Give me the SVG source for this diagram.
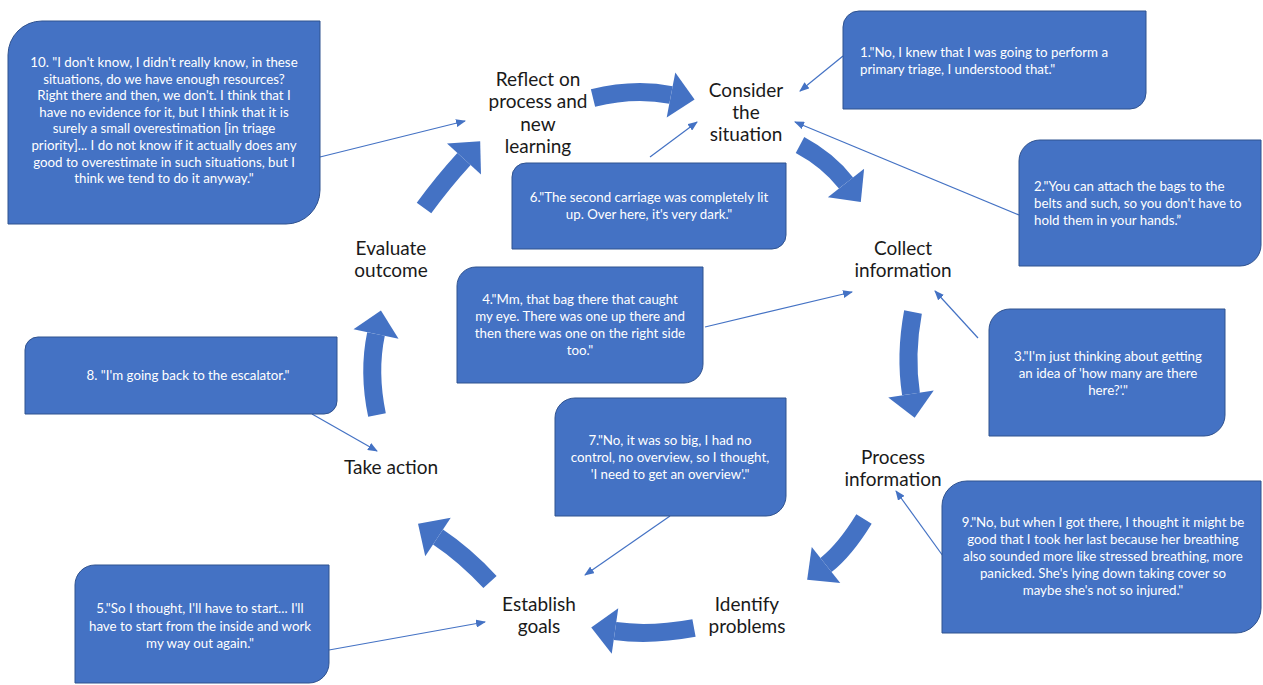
<svg xmlns="http://www.w3.org/2000/svg" width="1263" height="685" viewBox="0 0 1263 685">
<style>
.box{fill:#4472C4;stroke:#2F528F;stroke-width:1}
.bt{font-family:Lato,"Open Sans","Liberation Sans",sans-serif;font-size:13.3px;fill:#ffffff}
.c{text-anchor:middle}
.lbl{font-family:Lato,"Open Sans","Liberation Sans",sans-serif;font-size:19px;fill:#1a1a1a;text-anchor:middle}
.big{fill:none;stroke:#4472C4;stroke-width:18;marker-end:url(#head)}
.thin{fill:none;stroke:#4472C4;stroke-width:1.2;marker-end:url(#tip)}
</style>
<defs>
<marker id="head" viewBox="0 0 24 46" markerWidth="24" markerHeight="46" refX="0" refY="23" orient="auto" markerUnits="userSpaceOnUse" overflow="visible">
<path d="M0,0 L24,23 L0,46 Z" fill="#4472C4"/>
</marker>
<marker id="tip" viewBox="0 0 10 8" markerWidth="10" markerHeight="8" refX="9" refY="4" orient="auto" markerUnits="userSpaceOnUse">
<path d="M0,0 L10,4 L0,8 Z" fill="#4472C4"/>
</marker>
</defs>
<rect width="1263" height="685" fill="#ffffff"/>

<g id="connectors">
<path class="big" d="M593,98 Q634,88 671,95"/>
<path class="big" d="M800,145 Q828,160 846,183"/>
<path class="big" d="M913,312 Q905,355 911,394"/>
<path class="big" d="M864,519 Q845,550 826,565"/>
<path class="big" d="M694,628 Q650,636 615,631"/>
<path class="big" d="M490,582 Q465,555 438,537"/>
<path class="big" d="M377,415 Q368,372 376,334"/>
<path class="big" d="M424,208 Q443,182 464,159"/>
<path class="thin" d="M320,157 L465,121"/>
<path class="thin" d="M650,157 L697,122"/>
<path class="thin" d="M843,56 L800,91"/>
<path class="thin" d="M1019,215 L795,122"/>
<path class="thin" d="M705,327 L852,292"/>
<path class="thin" d="M978,338 L935,291"/>
<path class="thin" d="M943,556 L896,491"/>
<path class="thin" d="M670,516 L585,575"/>
<path class="thin" d="M312,414 L377,451"/>
<path class="thin" d="M329,650 L485,622"/>
</g>

<g id="label-reflect"><text class="lbl"><tspan x="538" y="86">Reflect on</tspan><tspan x="538" y="108">process and</tspan><tspan x="538" y="131">new</tspan><tspan x="538" y="153">learning</tspan></text></g>
<g id="label-consider"><text class="lbl"><tspan x="746" y="97">Consider</tspan><tspan x="746" y="119">the</tspan><tspan x="746" y="141">situation</tspan></text></g>
<g id="label-collect"><text class="lbl"><tspan x="903" y="255">Collect</tspan><tspan x="903" y="277">information</tspan></text></g>
<g id="label-process"><text class="lbl"><tspan x="893" y="464">Process</tspan><tspan x="893" y="486">information</tspan></text></g>
<g id="label-identify"><text class="lbl"><tspan x="747" y="611">Identify</tspan><tspan x="747" y="633">problems</tspan></text></g>
<g id="label-establish"><text class="lbl"><tspan x="539" y="611">Establish</tspan><tspan x="539" y="633">goals</tspan></text></g>
<g id="label-take"><text class="lbl" x="391" y="474">Take action</text></g>
<g id="label-evaluate"><text class="lbl"><tspan x="391" y="255">Evaluate</tspan><tspan x="391" y="277">outcome</tspan></text></g>

<g id="box10">
<path class="box" d="M42,21 H320 V190 A34,34 0 0 1 286,224 H8 V55 A34,34 0 0 1 42,21 Z"/>
<text class="bt c"><tspan x="164" y="67">10. "I don't know, I didn't really know, in these</tspan><tspan x="164" y="84">situations, do we have enough resources?</tspan><tspan x="164" y="100">Right there and then, we don't. I think that I</tspan><tspan x="164" y="117">have no evidence for it, but I think that it is</tspan><tspan x="164" y="133">surely a small overestimation [in triage</tspan><tspan x="164" y="150">priority]... I do not know if it actually does any</tspan><tspan x="164" y="167">good to overestimate in such situations, but I</tspan><tspan x="164" y="183">think we tend to do it anyway."</tspan></text>
</g>
<g id="box1">
<path class="box" d="M859,11 H1146 V93 A16,16 0 0 1 1130,109 H843 V27 A16,16 0 0 1 859,11 Z"/>
<text class="bt"><tspan x="860" y="57">1."No, I knew that I was going to perform a</tspan><tspan x="860" y="74">primary triage, I understood that."</tspan></text>
</g>
<g id="box2">
<path class="box" d="M1040,140 H1261 V245 A21,21 0 0 1 1240,266 H1019 V161 A21,21 0 0 1 1040,140 Z"/>
<text class="bt"><tspan x="1034" y="191">2."You can attach the bags to the</tspan><tspan x="1034" y="208">belts and such, so you don't have to</tspan><tspan x="1034" y="225">hold them in your hands.”</tspan></text>
</g>
<g id="box6">
<path class="box" d="M526,163 H786 V235 A14,14 0 0 1 772,249 H512 V177 A14,14 0 0 1 526,163 Z"/>
<text class="bt c"><tspan x="649" y="202">6."The second carriage was completely lit</tspan><tspan x="649" y="219">up. Over here, it's very dark."</tspan></text>
</g>
<g id="box4">
<path class="box" d="M476,267 H703 V364 A19,19 0 0 1 684,383 H457 V286 A19,19 0 0 1 476,267 Z"/>
<text class="bt c"><tspan x="580" y="304">4."Mm, that bag there that caught</tspan><tspan x="580" y="321">my eye. There was one up there and</tspan><tspan x="580" y="338">then there was one on the right side</tspan><tspan x="580" y="355">too."</tspan></text>
</g>
<g id="box8">
<path class="box" d="M38,337 H337 V401 A13,13 0 0 1 324,414 H25 V350 A13,13 0 0 1 38,337 Z"/>
<text class="bt c" x="188" y="380">8. "I'm going back to the escalator."</text>
</g>
<g id="box3">
<path class="box" d="M1010,309 H1225 V415 A21,21 0 0 1 1204,436 H989 V330 A21,21 0 0 1 1010,309 Z"/>
<text class="bt c"><tspan x="1108" y="361">3."I'm just thinking about getting</tspan><tspan x="1108" y="378">an idea of 'how many are there</tspan><tspan x="1108" y="395">here?'."</tspan></text>
</g>
<g id="box7">
<path class="box" d="M575,398 H786 V496 A20,20 0 0 1 766,516 H555 V418 A20,20 0 0 1 575,398 Z"/>
<text class="bt c"><tspan x="670" y="445">7."No, it was so big, I had no</tspan><tspan x="670" y="462">control, no overview, so I thought,</tspan><tspan x="670" y="479">'I need to get an overview'."</tspan></text>
</g>
<g id="box9">
<path class="box" d="M967,481 H1261 V608 A25,25 0 0 1 1236,633 H942 V506 A25,25 0 0 1 967,481 Z"/>
<text class="bt c"><tspan x="1103" y="527">9."No, but when I got there, I thought it might be</tspan><tspan x="1103" y="544">good that I took her last because her breathing</tspan><tspan x="1103" y="561">also sounded more like stressed breathing, more</tspan><tspan x="1103" y="578">panicked. She's lying down taking cover so</tspan><tspan x="1103" y="595">maybe she's not so injured."</tspan></text>
</g>
<g id="box5">
<path class="box" d="M95,565 H329 V663 A20,20 0 0 1 309,683 H75 V585 A20,20 0 0 1 95,565 Z"/>
<text class="bt c"><tspan x="200" y="613">5."So I thought, I'll have to start... I'll</tspan><tspan x="200" y="631">have to start from the inside and work</tspan><tspan x="200" y="648">my way out again."</tspan></text>
</g>
</svg>
